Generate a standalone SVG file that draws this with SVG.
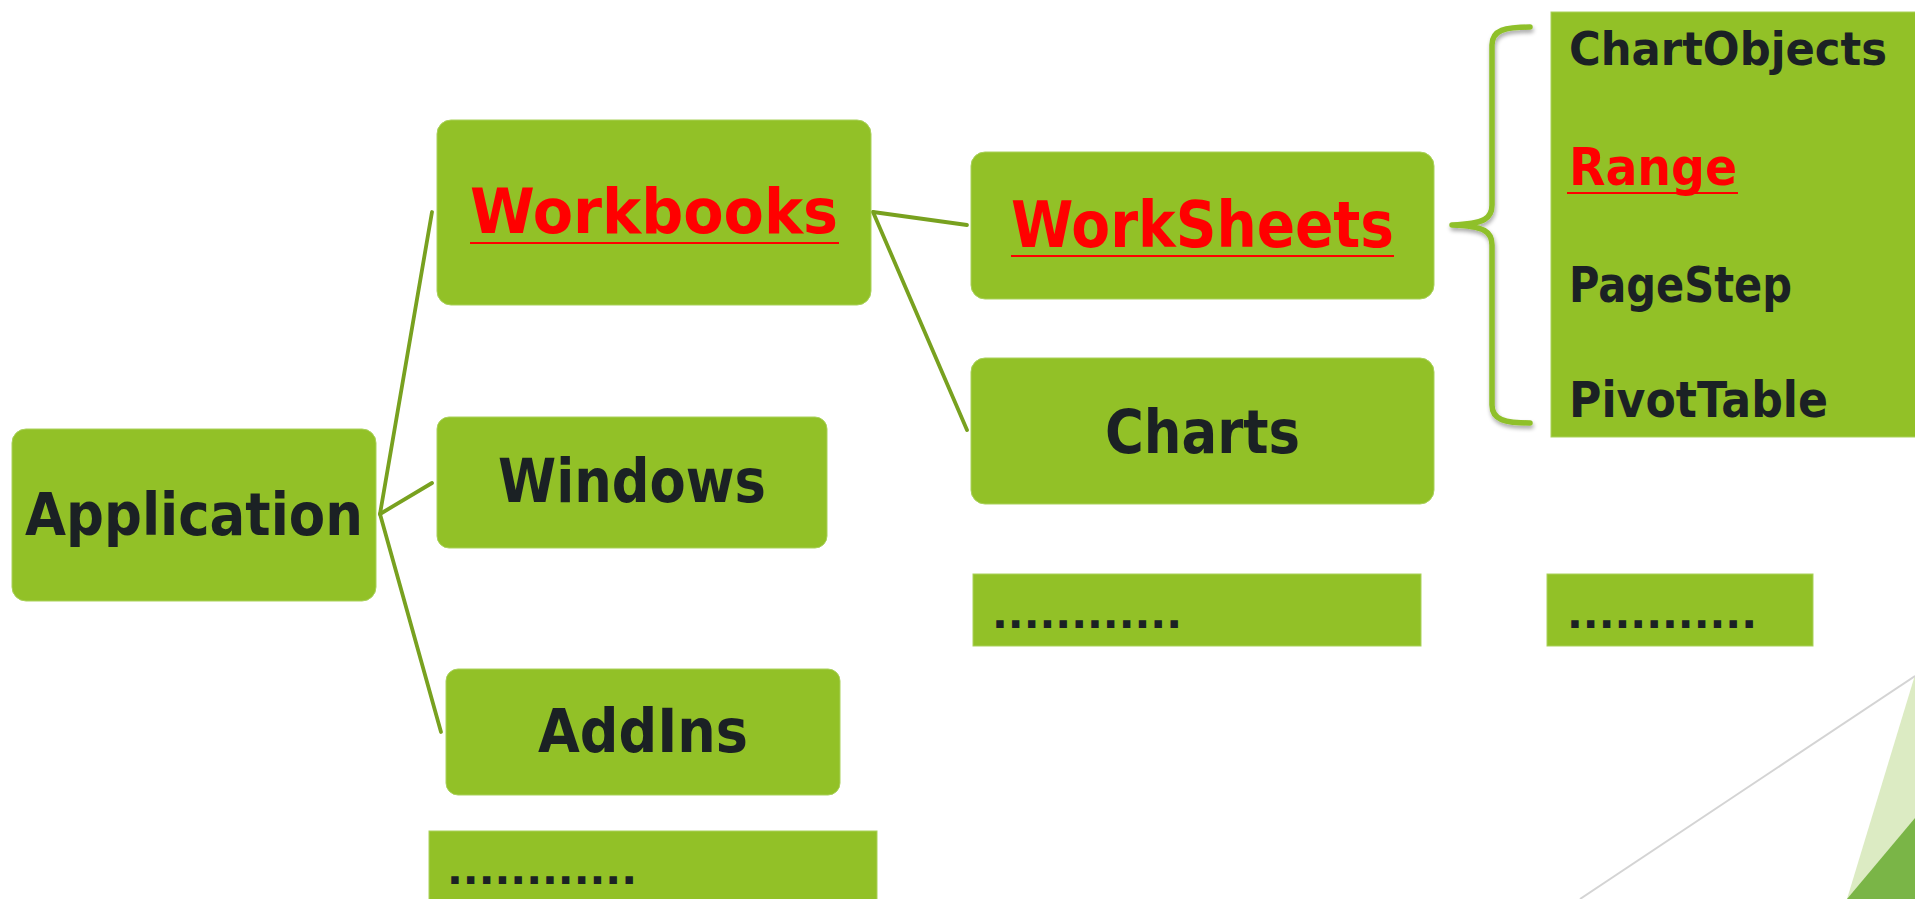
<svg xmlns="http://www.w3.org/2000/svg" width="1915" height="899" viewBox="0 0 1915 899">
<defs>
<style>
.box{fill:#92c127;stroke:#a9d15a;stroke-width:1}
.lbl{font-family:"DejaVu Sans","Liberation Sans",sans-serif;font-weight:bold;fill:#1b2124}
.red{fill:#ff0000}
.ul{stroke:#ff0000;stroke-width:2}
.conn{fill:none;stroke:#78a11f;stroke-width:3.8;stroke-linecap:round}
.brace{fill:none;stroke:#8fc02a;stroke-width:5.5;stroke-linecap:round;stroke-linejoin:round}
</style>
<filter id="sh" x="-50%" y="-10%" width="200%" height="120%">
<feGaussianBlur in="SourceAlpha" stdDeviation="2"/>
<feOffset dx="1" dy="3" result="o"/>
<feComponentTransfer><feFuncA type="linear" slope="0.35"/></feComponentTransfer>
<feMerge><feMergeNode/><feMergeNode in="SourceGraphic"/></feMerge>
</filter>
</defs>
<rect width="1915" height="899" fill="#ffffff"/>

<g id="decor">
<polygon points="1847,899 1915,675 1915,899" fill="#dcebc3"/>
<polygon points="1847,899 1915,818 1915,899" fill="#7ab547"/>
<line x1="1580" y1="899" x2="1915" y2="676" stroke="#d4d4d4" stroke-width="2"/>
</g>

<g id="connectors">
<line class="conn" x1="380" y1="514" x2="432" y2="212"/>
<line class="conn" x1="380" y1="514" x2="432" y2="483"/>
<line class="conn" x1="380" y1="514" x2="441" y2="732"/>
<line class="conn" x1="873" y1="212" x2="967" y2="225"/>
<line class="conn" x1="873" y1="212" x2="967" y2="430"/>
<path class="brace" filter="url(#sh)" d="M1530,27 C1505,27 1492,30 1492,45 L1492,205 C1492,218 1485,224 1452,225 C1485,226 1492,232 1492,245 L1492,405 C1492,420 1505,423 1530,423"/>
</g>

<g id="application">
<rect class="box" x="12" y="429" width="364" height="172" rx="14"/>
<text class="lbl" x="25" y="535" font-size="59" textLength="338" lengthAdjust="spacingAndGlyphs">Application</text>
</g>

<g id="workbooks">
<rect class="box" x="437" y="120" width="434" height="185" rx="14"/>
<text class="lbl red" x="470" y="233" font-size="63" textLength="368" lengthAdjust="spacingAndGlyphs">Workbooks</text>
<line class="ul" x1="470" y1="243" x2="839" y2="243"/>
</g>

<g id="windows">
<rect class="box" x="437" y="417" width="390" height="131" rx="12"/>
<text class="lbl" x="498" y="502" font-size="60" textLength="268" lengthAdjust="spacingAndGlyphs">Windows</text>
</g>

<g id="addins">
<rect class="box" x="446" y="669" width="394" height="126" rx="12"/>
<text class="lbl" x="538" y="752" font-size="60" textLength="210" lengthAdjust="spacingAndGlyphs">AddIns</text>
</g>

<g id="more-app">
<rect class="box" x="429" y="831" width="448" height="80"/>
<text class="lbl" x="447" y="884" font-size="40" textLength="190" lengthAdjust="spacingAndGlyphs">............</text>
</g>

<g id="worksheets">
<rect class="box" x="971" y="152" width="463" height="147" rx="14"/>
<text class="lbl red" x="1011" y="247" font-size="64" textLength="383" lengthAdjust="spacingAndGlyphs">WorkSheets</text>
<line class="ul" x1="1011" y1="256" x2="1394" y2="256"/>
</g>

<g id="charts">
<rect class="box" x="971" y="358" width="463" height="146" rx="14"/>
<text class="lbl" x="1105" y="453" font-size="60" textLength="195" lengthAdjust="spacingAndGlyphs">Charts</text>
</g>

<g id="more-workbook">
<rect class="box" x="973" y="574" width="448" height="72"/>
<text class="lbl" x="992" y="628" font-size="40" textLength="190" lengthAdjust="spacingAndGlyphs">............</text>
</g>

<g id="more-worksheet">
<rect class="box" x="1547" y="574" width="266" height="72"/>
<text class="lbl" x="1567" y="628" font-size="40" textLength="190" lengthAdjust="spacingAndGlyphs">............</text>
</g>

<g id="worksheet-members">
<rect class="box" x="1551" y="12" width="365" height="425"/>
<text class="lbl" x="1569" y="65" font-size="46" textLength="318" lengthAdjust="spacingAndGlyphs">ChartObjects</text>
<text class="lbl red" x="1569" y="185" font-size="52" textLength="168" lengthAdjust="spacingAndGlyphs">Range</text>
<line class="ul" x1="1567" y1="193" x2="1738" y2="193"/>
<text class="lbl" x="1569" y="302" font-size="50" textLength="223" lengthAdjust="spacingAndGlyphs">PageStep</text>
<text class="lbl" x="1569" y="417" font-size="50" textLength="259" lengthAdjust="spacingAndGlyphs">PivotTable</text>
</g>
</svg>
